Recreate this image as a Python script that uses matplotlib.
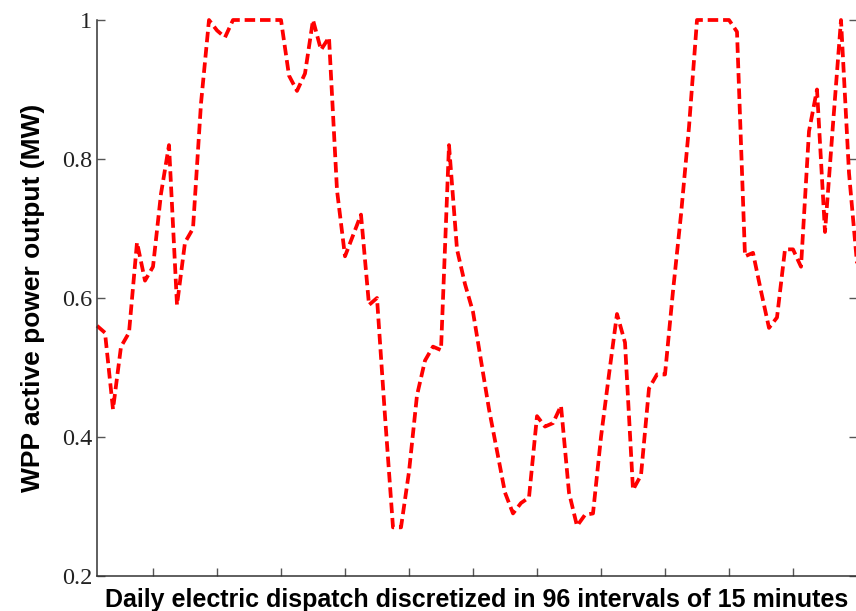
import matplotlib.pyplot as plt
import numpy as np

# WPP output for each of the 96 dispatch intervals
intervals = np.arange(1, 97)
power_mw = [
    0.56, 0.55, 0.44, 0.53, 0.55, 0.68, 0.625, 0.645, 0.75, 0.82,
    0.59, 0.68, 0.70, 0.88, 1.00, 0.985, 0.975, 1.00, 1.00, 1.00,
    1.00, 1.00, 1.00, 1.00, 0.92, 0.898, 0.923, 1.00, 0.957, 0.975,
    0.755, 0.66, 0.69, 0.72, 0.59, 0.60, 0.43, 0.27, 0.27, 0.35,
    0.46, 0.51, 0.53, 0.525, 0.82, 0.67, 0.62, 0.58, 0.51, 0.44,
    0.38, 0.32, 0.29, 0.305, 0.313, 0.43, 0.415, 0.42, 0.445, 0.32,
    0.272, 0.288, 0.29, 0.40, 0.49, 0.577, 0.536, 0.324, 0.345, 0.47,
    0.49, 0.49, 0.61, 0.72, 0.846, 1.00, 1.00, 1.00, 1.00, 1.00,
    0.983, 0.66, 0.665, 0.61, 0.557, 0.572, 0.67, 0.67, 0.645, 0.84,
    0.90, 0.695, 0.85, 1.00, 0.78, 0.65,
]
x_ticks = np.arange(8, 97, 8)
y_ticks = [0.2, 0.4, 0.6, 0.8, 1.0]
y_tick_labels = ['0.2', '0.4', '0.6', '0.8', '1']

fig = plt.figure(figsize=(8.56, 6.11), dpi=100)
ax = fig.add_axes([97 / 856, 1 - 576 / 611, 760 / 856, 556 / 611])

line, = ax.plot(intervals, power_mw, color='#ff0000', linestyle='--', linewidth=2.7, clip_on=False)
line.set_dashes((2.8, 1.3))

ax.set_xlim(1, 96)
ax.set_ylim(0.2, 1.0)
ax.set_xticks(x_ticks)
ax.set_xticklabels([])
ax.set_yticks(y_ticks)
ax.set_yticklabels(y_tick_labels, family='Liberation Serif', fontsize=17.5, color='#222222')

ax.tick_params(axis='both', direction='in', length=5.5, width=1, color='#555555', pad=3.5)
ax.tick_params(axis='y', right=True)

ax.spines['top'].set_visible(False)
for side in ['left', 'bottom', 'right']:
    ax.spines[side].set_color('#333333')
    ax.spines[side].set_linewidth(1.1)

ax.set_ylabel('WPP active power output (MW)', family='Liberation Sans', fontweight='bold', fontsize=19)
ax.yaxis.set_label_coords(-0.068, 0.5)
ax.set_xlabel('Daily electric dispatch discretized in 96 intervals of 15 minutes',
              family='Liberation Sans', fontweight='bold', fontsize=18, labelpad=5)

plt.savefig('out.png', dpi=100)
